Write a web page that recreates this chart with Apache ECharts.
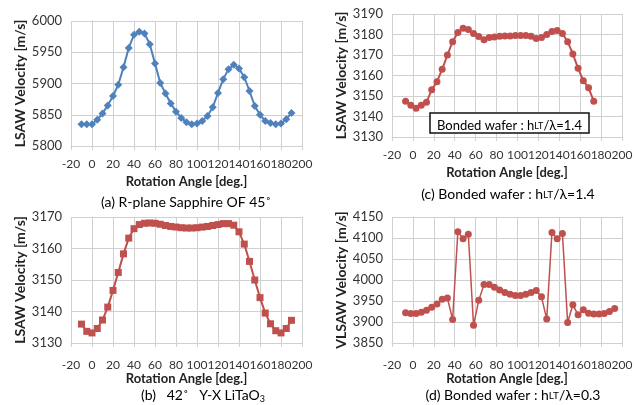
<!DOCTYPE html>
<html>
<head>
<meta charset="utf-8">
<script src="https://cdn.jsdelivr.net/npm/echarts@6/dist/echarts.min.js"></script>
<style>
  html, body { margin: 0; padding: 0; background: #fff; }
  #chart { width: 639px; height: 405px; }
</style>
</head>
<body>
<div id="chart"></div>
<script>
// (a) R-plane sapphire
const anglesA = [-10, -5, 0, 5, 10, 15, 20, 25, 30, 35, 40, 45, 50, 55, 60, 65, 70, 75, 80, 85, 90,
  95, 100, 105, 110, 115, 120, 125, 130, 135, 140, 145, 150, 155, 160, 165, 170, 175, 180, 185, 190];
const velA = [5835, 5835, 5835, 5842, 5852, 5865, 5880, 5898, 5926, 5957, 5978, 5983, 5980, 5963, 5932,
  5901, 5884, 5868, 5855, 5845, 5838, 5835, 5836, 5840, 5848, 5862, 5885, 5907, 5923, 5930, 5924,
  5910, 5888, 5864, 5850, 5840, 5837, 5835, 5836, 5843, 5853];

// (b) 42 Y-X LiTaO3
const anglesB = anglesA;
const velB = [3136, 3133.7, 3133.2, 3134.6, 3137.3, 3141.4, 3146.7, 3152.4, 3158.3, 3163.3,
  3166.3, 3167.6, 3168, 3168.1, 3168, 3167.7, 3167.3, 3167, 3166.8, 3166.6,
  3166.5, 3166.5, 3166.6, 3166.8, 3167, 3167.3, 3167.6, 3167.9, 3167.9, 3167.4,
  3165.3, 3161.4, 3155.9, 3150, 3144.4, 3139.5, 3136.1, 3133.9, 3133.2, 3134.6, 3137.2];

// (c) bonded wafer h/λ=1.4
const anglesC = [-7, -2, 3, 8, 13, 18, 23, 28, 33, 38, 43, 48, 53, 58, 63, 68, 73, 78, 83, 88, 93,
  98, 103, 108, 113, 118, 123, 128, 133, 138, 143, 148, 153, 158, 163, 168, 173];
const velC = [3147.5, 3145.5, 3144, 3145.5, 3147, 3153, 3157, 3163, 3170, 3176.5, 3181, 3183, 3182.5,
  3180.5, 3179, 3177.5, 3178.5, 3178.8, 3179.2, 3179.3, 3179.3, 3179.5, 3179.5, 3179.5, 3179.2,
  3178, 3178.5, 3180, 3181.5, 3182, 3180.5, 3176.5, 3170.5, 3163.5, 3157.5, 3154, 3147.5];

// (d) bonded wafer h/λ=0.3
const anglesD = [-7, -2, 3, 8, 13, 18, 23, 28, 33, 38, 43, 48, 53, 58, 63, 68, 73, 78, 83, 88, 93,
  98, 103, 108, 113, 118, 123, 128, 133, 138, 143, 148, 153, 158, 163, 168, 173, 178, 183, 188, 193];
const velD = [3922, 3920, 3920, 3923, 3928, 3935, 3943, 3954, 3957, 3906, 4115, 4098, 4109, 3892,
  3952, 3989, 3989, 3983, 3976, 3970, 3966, 3963, 3963, 3966, 3970, 3975, 3960, 3907, 4113, 4098,
  4111, 3899, 3941, 3917, 3929, 3921, 3919, 3919, 3920, 3925, 3932];

const angleTicks = { min: -20, max: 200, interval: 20 };
const yRanges = [
  { min: 5800, max: 6000, interval: 50 },
  { min: 3130, max: 3170, interval: 10 },
  { min: 3130, max: 3190, interval: 10 },
  { min: 3850, max: 4150, interval: 50 }
];
const yNames = ['LSAW Velocity [m/s]', 'LSAW Velocity [m/s]', 'LSAW Velocity [m/s]', 'VLSAW Velocity [m/s]'];

const FONT = 'Lato';
const BLUE = '#4f81bd';
const RED = '#c0504d';
const GRID_COLOR = '#d0d0d0';

const grids = [
  { left: 71, top: 21, width: 231, height: 125 },
  { left: 71, top: 217, width: 231, height: 126 },
  { left: 392, top: 14, width: 230, height: 123 },
  { left: 392, top: 217, width: 230, height: 126 }
];
const labelMargins = [12, 16, 12, 16];

function zip(xs, ys) {
  return xs.map((x, i) => [x, ys[i]]);
}

const xAxes = grids.map((g, i) => Object.assign({
  type: 'value',
  gridIndex: i,
  name: 'Rotation Angle [deg.]',
  nameLocation: 'middle',
  nameGap: 29,
  nameTextStyle: { fontFamily: FONT, fontWeight: 'bold', fontSize: 13, color: '#222' },
  axisLine: { show: true, lineStyle: { color: GRID_COLOR } },
  axisTick: { show: true, length: 4, lineStyle: { color: GRID_COLOR } },
  splitLine: { show: true, lineStyle: { color: GRID_COLOR } },
  axisLabel: { fontFamily: FONT, fontSize: 12, color: '#333', margin: labelMargins[i] }
}, angleTicks));

const yAxes = grids.map((g, i) => Object.assign({
  type: 'value',
  gridIndex: i,
  name: yNames[i],
  nameLocation: 'middle',
  nameGap: 42,
  nameTextStyle: { fontFamily: FONT, fontWeight: 'bold', fontSize: 14, color: '#222' },
  axisLine: { show: true, lineStyle: { color: GRID_COLOR } },
  axisTick: { show: true, length: 4, lineStyle: { color: GRID_COLOR } },
  splitLine: { show: true, lineStyle: { color: GRID_COLOR } },
  axisLabel: { fontFamily: FONT, fontSize: 13, color: '#333', margin: 9, formatter: v => String(v) }
}, yRanges[i]));

function lineSeries(idx, data, color, symbol, size, width) {
  return {
    type: 'line',
    xAxisIndex: idx,
    yAxisIndex: idx,
    data: data,
    symbol: symbol,
    symbolSize: size,
    showSymbol: true,
    lineStyle: { color: color, width: width },
    itemStyle: { color: color, borderWidth: 0 },
    animation: false
  };
}

function richFor(size) {
  return {
    n: { fontFamily: FONT, fontSize: size, color: '#222', lineHeight: 18, verticalAlign: 'bottom' },
    s: { fontFamily: FONT, fontSize: size - 4, color: '#222', lineHeight: 18, verticalAlign: 'bottom', padding: [0, 0, 1, 0] },
    sub: { fontFamily: FONT, fontSize: size - 5, color: '#222', lineHeight: 18, verticalAlign: 'bottom', padding: [0, 0, -2, 0] }
  };
}

function caption(x, y, text, size) {
  return {
    type: 'text', x: x, y: y, z: 10,
    style: { text: text, rich: richFor(size || 14), align: 'center', verticalAlign: 'middle' }
  };
}

const chart = echarts.init(document.getElementById('chart'), null, { renderer: 'canvas' });
chart.setOption({
  animation: false,
  backgroundColor: '#fff',
  grid: grids,
  xAxis: xAxes,
  yAxis: yAxes,
  series: [
    lineSeries(0, zip(anglesA, velA), BLUE, 'diamond', 8, 2),
    lineSeries(1, zip(anglesB, velB), RED, 'rect', 7, 2),
    lineSeries(2, zip(anglesC, velC), RED, 'circle', 7, 2),
    lineSeries(3, zip(anglesD, velD), RED, 'circle', 7, 1.5)
  ],
  graphic: [
    caption(186, 200, '{n|(a) R-plane Sapphire OF 45˚}'),
    caption(203, 393, '{n|(b)   42˚   Y-X LiTaO}{sub|3}'),
    caption(508, 192, '{n|(c) Bonded wafer : h}{s|LT}{n|/λ=1.4}'),
    caption(513, 393, '{n|(d) Bonded wafer : h}{s|LT}{n|/λ=0.3}'),
    {
      type: 'rect', z: 9,
      shape: { x: 430, y: 113, width: 159, height: 20 },
      style: { fill: '#fff', stroke: '#111', lineWidth: 1.5 }
    },
    caption(509.5, 123, '{n|Bonded wafer : h}{s|LT}{n|/λ=1.4}', 13)
  ]
});
</script>
</body>
</html>
